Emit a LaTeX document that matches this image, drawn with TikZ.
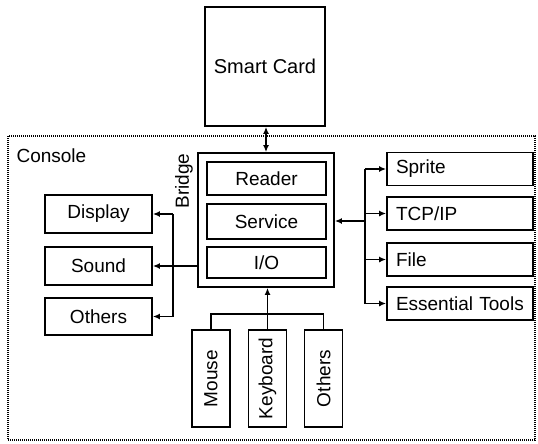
\documentclass[tikz,border=0pt]{standalone}
\usepackage{fontspec}
\setmainfont{Liberation Sans}
\usetikzlibrary{arrows.meta}
\begin{document}
\begin{tikzpicture}[x=1pt,y=-1pt,
  box/.style={draw,line width=1.8pt,inner sep=0pt,font=\fontsize{19}{22}\selectfont},
  rbox/.style={box,minimum height=33pt,text width=128pt,align=left,inner xsep=9pt},
  vbox/.style={box,rotate=90,minimum width=97pt,minimum height=38pt},
  conn/.style={line width=1.7pt},
  tip/.tip={Latex[length=7pt,width=6pt]},
  arr/.style={conn,-tip}]
\useasboundingbox (0,0) rectangle (538,444);
% console border
\draw[line width=1.4pt,dash pattern=on 1pt off 1pt] (8,136) rectangle (535,440);
\node[anchor=west,font=\fontsize{19}{22}\selectfont] (console) at (13,156) {Console};
% smart card
\node[box,minimum width=120pt,minimum height=119pt,font=\fontsize{20}{24}\selectfont] (sc) at (265,66.5) {Smart Card};
% bridge
\node[box,minimum width=136pt,minimum height=134pt] (bridge) at (266,220) {};
\node[box,minimum width=119pt,minimum height=33pt] (reader) at (266.5,178.5) {Reader};
\node[box,minimum width=119pt,minimum height=35pt] (service) at (266.5,221.5) {Service};
\node[box,minimum width=119pt,minimum height=31pt] (io) at (266.5,262.5) {I/O};
\node[rotate=90,font=\fontsize{19}{22}\selectfont] (blabel) at (184,181) {Bridge};
% left
\node[box,minimum width=107pt,minimum height=38pt] (display) at (98.5,214) {Display};
\node[box,minimum width=107pt,minimum height=38pt] (sound) at (98.5,266) {Sound};
\node[box,minimum width=107pt,minimum height=37pt] (othersl) at (98.5,316.5) {Others};
% right
\node[rbox] (sprite) at (460,169) {Sprite};
\node[rbox] (tcp) at (460,213.5) {TCP/IP};
\node[rbox] (file) at (460,259.5) {File};
\node[rbox] (tools) at (460,303.5) {Essential Tools};
% bottom
\node[vbox] (mouse) at (211,378.5) {Mouse};
\node[vbox] (keyboard) at (267.5,378.5) {Keyboard};
\node[vbox] (othersb) at (323.5,378.5) {Others};
% bus coordinates
\coordinate (lbus) at (173,266);
\coordinate (rbus) at (365,221);
\coordinate (bbus) at (267.5,314);
% connectors
\draw[conn,tip-tip] (sc.south -| bridge.north) -- (bridge.north);
\draw[conn] (bridge.west |- lbus) -- (lbus);
\draw[arr] (lbus) -- (sound.east);
\draw[conn] (lbus |- display.east) -- (lbus |- othersl.east);
\draw[arr] (lbus |- display.east) -- (display.east);
\draw[arr] (lbus |- othersl.east) -- (othersl.east);
\draw[arr] (rbus) -- (bridge.east |- rbus);
\draw[conn] (rbus |- sprite.west) -- (rbus |- tools.west);
\draw[arr] (rbus |- sprite.west) -- (sprite.west);
\draw[arr] (rbus |- tcp.west) -- (tcp.west);
\draw[arr] (rbus |- file.west) -- (file.west);
\draw[arr] (rbus |- tools.west) -- (tools.west);
\draw[conn] (mouse.east) |- (bbus) -| (othersb.east);
\draw[arr] (keyboard.east) -- (bridge.south -| keyboard.east);
\end{tikzpicture}
\end{document}
